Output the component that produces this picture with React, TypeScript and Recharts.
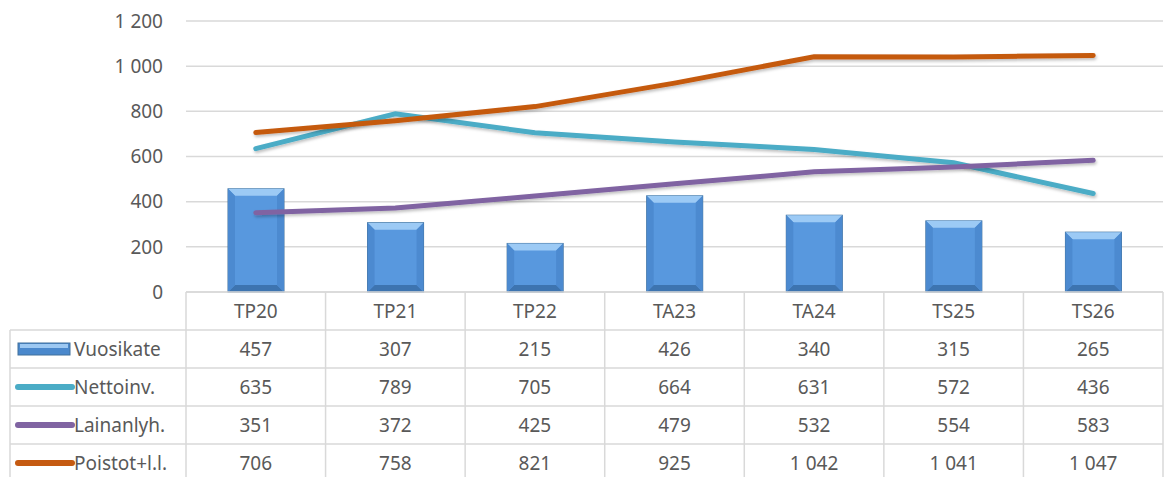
import React from 'react';
import { ComposedChart, Bar, Line, XAxis, YAxis, CartesianGrid } from 'recharts';

const categories = ['TP20', 'TP21', 'TP22', 'TA23', 'TA24', 'TS25', 'TS26'];
const vuosikate = [457, 307, 215, 426, 340, 315, 265];
const nettoinv = [635, 789, 705, 664, 631, 572, 436];
const lainanlyh = [351, 372, 425, 479, 532, 554, 583];
const poistot = [706, 758, 821, 925, 1042, 1041, 1047];
const yTicks = [0, 200, 400, 600, 800, 1000, 1200];

const series = [
  { key: 'vuosikate', name: 'Vuosikate', values: vuosikate, color: '#5b9bd5', type: 'bar' },
  { key: 'nettoinv', name: 'Nettoinv.', values: nettoinv, color: '#4bacc6', type: 'line' },
  { key: 'lainanlyh', name: 'Lainanlyh.', values: lainanlyh, color: '#8064a2', type: 'line' },
  { key: 'poistot', name: 'Poistot+l.l.', values: poistot, color: '#c55a11', type: 'line' },
];

const data = categories.map((c, i) => ({
  name: c,
  vuosikate: vuosikate[i],
  nettoinv: nettoinv[i],
  lainanlyh: lainanlyh[i],
  poistot: poistot[i],
}));

const fmt = (n: number) => String(n).replace(/\B(?=(\d{3})+(?!\d))/g, ' ');

const FONT = '"Noto Sans", sans-serif';
const FS = 19;
const TEXT = '#595959';
const GRID = '#d9d9d9';
const ROW_H = 38;
const TABLE_LEFT = 10;

// bevelled bar like the Excel style
const BevelBar = (props: any) => {
  const { x, y, width, height } = props;
  if (!height || height <= 0) return null;
  const b = 7;
  return (
    <g>
      <rect x={x} y={y} width={width} height={height} fill="#5898de" stroke="#41719c" strokeWidth={1} />
      <polygon points={`${x},${y} ${x + width},${y} ${x + width - b},${y + b} ${x + b},${y + b}`} fill="#9ccaf5" />
      <polygon points={`${x},${y + height} ${x + width},${y + height} ${x + width - b},${y + height - b} ${x + b},${y + height - b}`} fill="#3d74b0" />
      <polygon points={`${x},${y} ${x + b},${y + b} ${x + b},${y + height - b} ${x},${y + height}`} fill="#4c8ad0" />
      <polygon points={`${x + width},${y} ${x + width - b},${y + b} ${x + width - b},${y + height - b} ${x + width},${y + height}`} fill="#4c8ad0" />
    </g>
  );
};

const LegendKey = ({ s, cy }: { s: any; cy: number }) => {
  if (s.type === 'bar') {
    return (
      <g>
        <rect x={18} y={cy - 6} width={52} height={12} fill="#4a88cc" stroke="#41719c" />
        <rect x={20} y={cy - 5} width={48} height={4} fill="#9cc8f2" />
      </g>
    );
  }
  return <line x1={18} x2={72} y1={cy} y2={cy} stroke={s.color} strokeWidth={6} strokeLinecap="round" />;
};

// category label plus the data table column under it
const TableTick = (props: any) => {
  const { x, y, payload, index } = props;
  const half = payload && payload.offset ? payload.offset : 70;
  const last = index === categories.length - 1;
  const bottom = y + ROW_H * (series.length + 1) + 10;
  return (
    <g>
      {index === 0 && (
        <g>
          {series.map((s, i) => {
            const top = y + ROW_H * (i + 1);
            return <line key={'h' + i} x1={TABLE_LEFT} x2={x + half * 2 * categories.length - half} y1={top} y2={top} stroke={GRID} strokeWidth={1.5} />;
          })}
          <line x1={TABLE_LEFT} x2={TABLE_LEFT} y1={y + ROW_H} y2={bottom} stroke={GRID} strokeWidth={1.5} />
          {series.map((s, i) => {
            const cy = y + ROW_H * (i + 1) + ROW_H / 2;
            return (
              <g key={'l' + i}>
                <LegendKey s={s} cy={cy} />
                <text x={74} y={cy} dy="0.35em" fontSize={FS} fill={TEXT} fontFamily={FONT}>{s.name}</text>
              </g>
            );
          })}
        </g>
      )}
      <line x1={x - half} x2={x - half} y1={y} y2={bottom} stroke={GRID} strokeWidth={1.5} />
      {last && <line x1={x + half} x2={x + half} y1={y} y2={bottom} stroke={GRID} strokeWidth={1.5} />}
      <text x={x} y={y + ROW_H / 2} dy="0.35em" textAnchor="middle" fontSize={FS} fill={TEXT} fontFamily={FONT}>
        {payload.value}
      </text>
      {series.map((s, i) => (
        <text key={s.key} x={x} y={y + ROW_H * (i + 1) + ROW_H / 2} dy="0.35em" textAnchor="middle" fontSize={FS} fill={TEXT} fontFamily={FONT}>
          {fmt(s.values[index])}
        </text>
      ))}
    </g>
  );
};

export default function App() {
  return (
    <div style={{ position: 'absolute', left: 0, top: 0, background: '#fff' }}>
      <ComposedChart width={1165} height={477} data={data} margin={{ top: 21, right: 2, left: 0, bottom: 0 }} barCategoryGap={0}>
        <defs>
          <filter id="lineShadow" x="-10%" y="-50%" width="120%" height="200%">
            <feDropShadow dx={1} dy={2} stdDeviation={1.5} floodColor="#000" floodOpacity={0.25} />
          </filter>
        </defs>
        <CartesianGrid vertical={false} stroke={GRID} strokeWidth={1.5} />
        <XAxis
          dataKey="name"
          height={185}
          axisLine={{ stroke: GRID, strokeWidth: 1.5 }}
          tickLine={false}
          tickSize={0}
          tickMargin={0}
          interval={0}
          tick={<TableTick />}
        />
        <YAxis
          width={186}
          domain={[0, 1200]}
          ticks={yTicks}
          axisLine={false}
          tickLine={false}
          tickSize={0}
          tickMargin={23}
          tickFormatter={fmt}
          tick={{ fontSize: FS, fill: TEXT, fontFamily: FONT }}
        />
        <Bar dataKey="vuosikate" name="Vuosikate" barSize={56} shape={<BevelBar />} isAnimationActive={false} />
        <Line dataKey="nettoinv" name="Nettoinv." stroke="#4bacc6" strokeWidth={5} strokeLinecap="round" dot={false} filter="url(#lineShadow)" isAnimationActive={false} />
        <Line dataKey="lainanlyh" name="Lainanlyh." stroke="#8064a2" strokeWidth={5} strokeLinecap="round" dot={false} filter="url(#lineShadow)" isAnimationActive={false} />
        <Line dataKey="poistot" name="Poistot+l.l." stroke="#c55a11" strokeWidth={5} strokeLinecap="round" dot={false} filter="url(#lineShadow)" isAnimationActive={false} />
      </ComposedChart>
    </div>
  );
}
